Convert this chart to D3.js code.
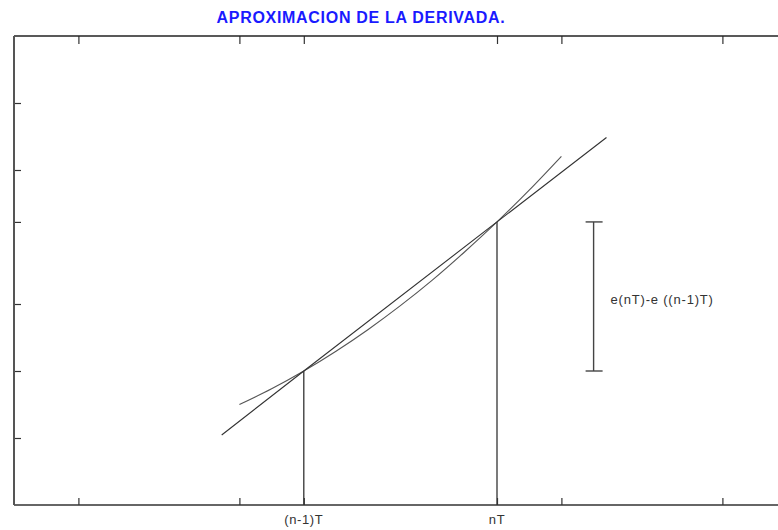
<!DOCTYPE html>
<html>
<head>
<meta charset="utf-8">
<script src="https://cdn.jsdelivr.net/npm/d3@7"></script>
<style>
  html, body { margin: 0; padding: 0; background: #fff; }
  svg { display: block; }
</style>
</head>
<body>
<script>
// ---- data ----
const title = "APROXIMACION DE LA DERIVADA.";
const xTicks = [2, 7, 9, 15, 17, 22];
const yTicks = [2, 4, 6, 8.45, 10, 12];
const xLabels = [{x: 9, text: "(n-1)T"}, {x: 15, text: "nT"}];
// curve e(t)
const curveX = [7, 8, 9, 10, 11, 12, 13, 14, 15, 16, 17];
const curveY = [3.0, 3.47, 4.0, 4.59, 5.24, 5.95, 6.72, 7.56, 8.45, 9.40, 10.41];
// secant line through the two samples
const secantX = [6.45, 9, 15, 18.4];
const secantY = [2.09, 4.0, 8.45, 10.97];
// sample instants and values
const sampleX = [9, 15];
const sampleY = [4.0, 8.45];
// difference bracket
const bracketX = 18;
const bracketLabel = "e(nT)-e ((n-1)T)";

(function () {
// ---- layout ----
const W = 778, H = 530;
const mLeft = 14, mTop = 36, mBottom = 505;
const x = d3.scaleLinear().domain([0, 24]).range([mLeft, mLeft + 24 * 32.2]);
const y = d3.scaleLinear().domain([0, 14]).range([mBottom, mTop]);

const svg = d3.select("body").append("svg").attr("width", W).attr("height", H);

svg.append("text")
  .attr("x", 361).attr("y", 23)
  .attr("text-anchor", "middle")
  .attr("font-family", "Liberation Sans, Arial, sans-serif")
  .attr("font-weight", "bold")
  .attr("font-size", 16)
  .attr("letter-spacing", 0.7)
  .attr("fill", "#1a1aff")
  .text(title);

// axes
const axisColor = "#333";
const gB = svg.append("g").attr("transform", `translate(0,${mBottom})`)
  .call(d3.axisTop(x).tickValues(xTicks).tickSize(7).tickFormat(""));
const gT = svg.append("g").attr("transform", `translate(0,${mTop})`)
  .call(d3.axisBottom(x).tickValues(xTicks).tickSize(8).tickFormat(""));
const gL = svg.append("g").attr("transform", `translate(${mLeft},0)`)
  .call(d3.axisRight(y).tickValues(yTicks).tickSize(7).tickFormat(""));
[gB, gT, gL].forEach(g => {
  g.select(".domain").remove();
  g.selectAll(".tick line").attr("stroke", axisColor).attr("stroke-width", 1.2);
});
svg.append("line").attr("x1", mLeft).attr("x2", W).attr("y1", mBottom).attr("y2", mBottom)
  .attr("stroke", "#333").attr("stroke-width", 1.6);
svg.append("line").attr("x1", mLeft).attr("x2", W).attr("y1", mTop).attr("y2", mTop)
  .attr("stroke", "#222").attr("stroke-width", 1.4);
svg.append("line").attr("x1", mLeft).attr("x2", mLeft).attr("y1", mTop).attr("y2", mBottom)
  .attr("stroke", "#555").attr("stroke-width", 2);

// x labels
svg.selectAll("text.xl").data(xLabels).enter().append("text")
  .attr("class", "xl")
  .attr("x", d => x(d.x)).attr("y", 524)
  .attr("text-anchor", "middle")
  .attr("font-family", "Liberation Sans, Arial, sans-serif")
  .attr("font-size", 13)
  .attr("letter-spacing", 0.6)
  .attr("fill", "#333")
  .text(d => d.text);

// vertical sample lines
svg.selectAll("line.samp").data(sampleX).enter().append("line")
  .attr("class", "samp")
  .attr("x1", d => x(d)).attr("x2", d => x(d))
  .attr("y1", mBottom).attr("y2", (d, i) => y(sampleY[i]))
  .attr("stroke", "#333").attr("stroke-width", 1.3);

const line = d3.line().x(d => x(d[0])).y(d => y(d[1])).curve(d3.curveMonotoneX);
svg.append("path")
  .attr("d", line(curveX.map((v, i) => [v, curveY[i]])))
  .attr("fill", "none").attr("stroke", "#555").attr("stroke-width", 1.1);
svg.append("path")
  .attr("d", d3.line().x(d => x(d[0])).y(d => y(d[1]))(secantX.map((v, i) => [v, secantY[i]])))
  .attr("fill", "none").attr("stroke", "#333").attr("stroke-width", 1.1);

// bracket
const bx = x(bracketX);
const by1 = y(sampleY[1]), by0 = y(sampleY[0]);
const br = svg.append("g").attr("stroke", "#444").attr("stroke-width", 1.4);
br.append("line").attr("x1", bx).attr("x2", bx).attr("y1", by1).attr("y2", by0);
br.append("line").attr("x1", bx - 8).attr("x2", bx + 9).attr("y1", by1).attr("y2", by1);
br.append("line").attr("x1", bx - 8).attr("x2", bx + 9).attr("y1", by0).attr("y2", by0);
svg.append("text")
  .attr("x", bx + 17).attr("y", 304)
  .attr("font-family", "Liberation Sans, Arial, sans-serif")
  .attr("font-size", 13)
  .attr("letter-spacing", 0.8)
  .attr("fill", "#333")
  .text(bracketLabel);
})();
</script>
</body>
</html>
